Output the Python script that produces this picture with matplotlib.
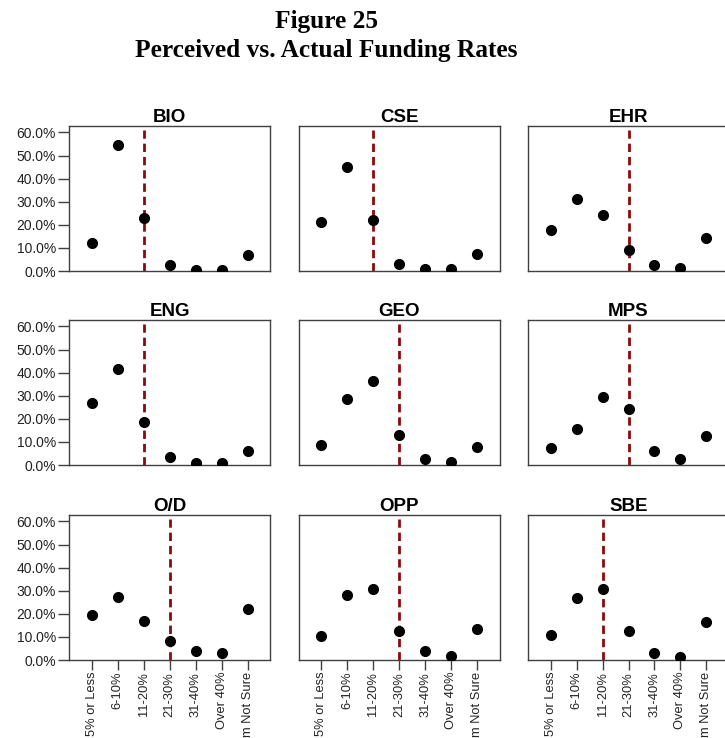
import matplotlib
matplotlib.use("Agg")
import matplotlib.pyplot as plt
from matplotlib.ticker import PercentFormatter

categories = ["5% or Less", "6-10%", "11-20%", "21-30%", "31-40%", "Over 40%", "I'm Not Sure"]
panels = ["BIO", "CSE", "EHR", "ENG", "GEO", "MPS", "O/D", "OPP", "SBE"]

# percent of respondents choosing each perceived funding rate
bio = [12.0, 54.4, 23.1, 2.6, 0.4, 0.4, 6.9]
cse = [21.2, 44.9, 22.1, 2.9, 0.9, 0.9, 7.5]
ehr = [17.7, 31.0, 24.1, 9.1, 2.6, 1.2, 14.5]
eng = [26.9, 41.5, 18.7, 3.3, 1.0, 1.0, 6.0]
geo = [8.5, 28.6, 36.5, 12.8, 2.6, 1.2, 7.6]
mps = [7.5, 15.4, 29.3, 24.3, 6.2, 2.6, 12.4]
od = [19.3, 27.5, 16.8, 8.3, 4.0, 2.9, 22.0]
opp = [10.4, 28.1, 30.9, 12.7, 3.8, 1.9, 13.3]
sbe = [11.0, 26.7, 30.9, 12.5, 2.9, 1.3, 16.5]
series = [bio, cse, ehr, eng, geo, mps, od, opp, sbe]

# category the actual funding rate falls in
actual = ["11-20%", "11-20%", "21-30%", "11-20%", "21-30%", "21-30%", "21-30%", "21-30%", "11-20%"]

W, H = 725, 738
fig = plt.figure(figsize=(W / 100, H / 100), dpi=100)
fig.patch.set_facecolor("white")

fig.text(326.7 / W, 1 - 28 / H, "Figure 25", ha="center", va="baseline",
         family="Liberation Serif", weight="bold", fontsize=18.3)
fig.text(326.7 / W, 1 - 57 / H, "Perceived vs. Actual Funding Rates", ha="center", va="baseline",
         family="Liberation Serif", weight="bold", fontsize=18.3)

col_left = [69.3, 298.6, 528.0]
row_bottom = [271.0, 465.0, 660.0]
ax_w, ax_h = 201.0, 145.0
x = list(range(len(categories)))

for i, (name, vals, act) in enumerate(zip(panels, series, actual)):
    r, c = divmod(i, 3)
    ax = fig.add_axes([col_left[c] / W, 1 - row_bottom[r] / H, ax_w / W, ax_h / H])
    ax.plot(x, vals, "o", color="black", markersize=7, zorder=3)
    ax.axvline(categories.index(act), ymin=0, ymax=0.975, color="#8b0a0a", lw=2.0,
               linestyle=(0, (3.0, 1.78)), zorder=2)
    ax.set_xlim(-0.87, 6.87)
    ax.set_ylim(0, 62.8)
    for s in ax.spines.values():
        s.set_color("#404040")
        s.set_linewidth(1.0)
    ax.set_title(name, family="Liberation Sans", weight="bold", fontsize=13.5, pad=3)

    if c == 0:
        ax.set_yticks([0, 10, 20, 30, 40, 50, 60])
        ax.yaxis.set_major_formatter(PercentFormatter(xmax=100, decimals=1))
        ax.tick_params(axis="y", length=8, width=1, color="#404040", pad=1.5,
                       labelsize=10, labelcolor="#222222")
        for lab in ax.get_yticklabels():
            lab.set_family("Liberation Sans")
    else:
        ax.set_yticks([])

    if r == 2:
        ax.set_xticks(x)
        ax.set_xticklabels(categories, rotation=90, family="Liberation Sans")
        ax.tick_params(axis="x", length=7, width=1, color="#404040", pad=1.5,
                       labelsize=9.3, labelcolor="#222222")
    else:
        ax.set_xticks([])

fig.savefig("out.png", dpi=100, facecolor="white")
